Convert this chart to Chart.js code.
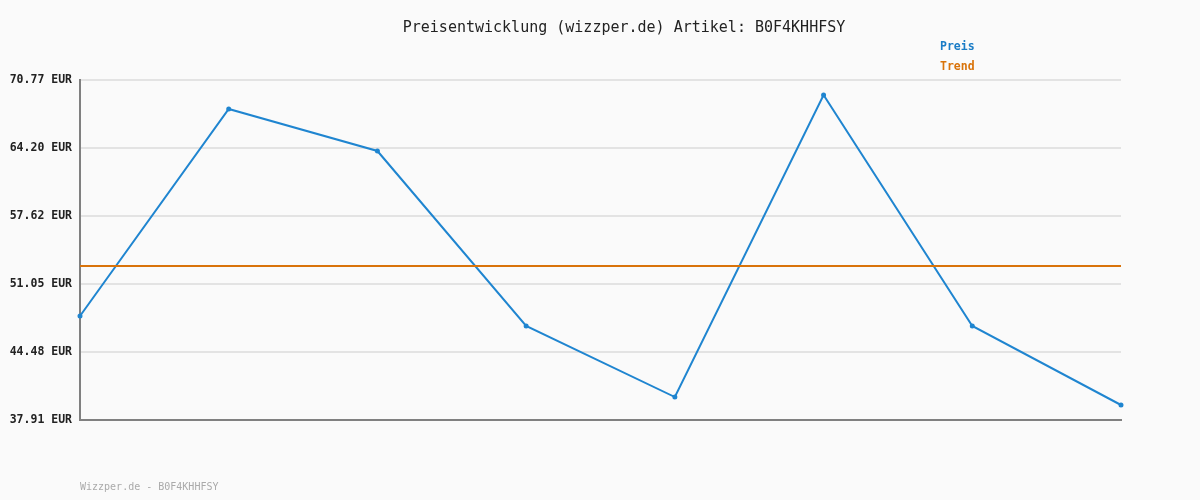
<!DOCTYPE html>
<html>
<head>
<meta charset="utf-8">
<script src="https://cdn.jsdelivr.net/npm/chart.js@4/dist/chart.umd.min.js"></script>
<style>
  html, body { margin: 0; padding: 0; background: #fafafa; }
  #wrap { width: 1200px; height: 500px; }
</style>
</head>
<body>
<div id="wrap"><canvas id="myChart" width="1200" height="500"></canvas></div>
<script>
// data
let labels = ['', '', '', '', '', '', '', ''];
let preis = [47.96, 67.97, 63.91, 47.00, 40.13, 69.32, 47.00, 39.36];
let trend = [52.79, 52.79, 52.79, 52.79, 52.79, 52.79, 52.79, 52.79];
let yTicks = [37.91, 44.48, 51.05, 57.62, 64.20, 70.77];

let titleText = 'Preisentwicklung (wizzper.de) Artikel: B0F4KHHFSY';
let footerText = 'Wizzper.de - B0F4KHHFSY';
let fontName = '"DejaVu Sans Mono", "Liberation Mono", monospace';

// titles, legend and footer drawn in fixed places
let textPlugin = {
    id: 'texts',
    afterDraw: function (chart) {
        let ctx = chart.ctx;
        ctx.save();
        ctx.textBaseline = 'middle';
        ctx.textAlign = 'center';
        ctx.font = '15px ' + fontName;
        ctx.fillStyle = '#222';
        ctx.fillText(titleText, 624, 28);

        ctx.textAlign = 'left';
        ctx.font = 'bold 11.5px ' + fontName;
        ctx.fillStyle = '#1a7cc6';
        ctx.fillText('Preis', 940, 47);
        ctx.fillStyle = '#d9730a';
        ctx.fillText('Trend', 940, 67);

        ctx.font = '10px ' + fontName;
        ctx.fillStyle = '#aaa';
        ctx.fillText(footerText, 80, 487);
        ctx.restore();
    }
};

let bgPlugin = {
    id: 'bg',
    beforeDraw: function (chart) {
        let ctx = chart.ctx;
        ctx.save();
        ctx.fillStyle = '#fafafa';
        ctx.fillRect(0, 0, chart.width, chart.height);
        ctx.restore();
    }
};

let ctx = document.getElementById('myChart').getContext('2d');
let chart = new Chart(ctx, {
    type: 'line',
    data: {
        labels: labels,
        datasets: [{
            label: 'Trend',
            data: trend,
            borderColor: '#d9730a',
            borderWidth: 2,
            pointRadius: 0,
            tension: 0
        }, {
            label: 'Preis',
            data: preis,
            borderColor: '#1f85d0',
            backgroundColor: '#1f85d0',
            borderWidth: 2,
            pointRadius: 1.5,
            pointStyle: 'circle',
            tension: 0
        }]
    },
    options: {
        responsive: false,
        animation: false,
        layout: { padding: { top: 80, right: 79, bottom: 0, left: 0 } },
        plugins: {
            legend: { display: false },
            title: { display: false },
            tooltip: { enabled: false }
        },
        scales: {
            x: {
                offset: false,
                grid: { display: false },
                border: { display: true, color: '#808080', width: 2 },
                ticks: { display: false },
                afterFit: function (scale) { scale.height = 80; }
            },
            y: {
                min: 37.91,
                max: 70.77,
                afterBuildTicks: function (scale) {
                    scale.ticks = yTicks.map(function (v) { return { value: v }; });
                },
                afterFit: function (scale) { scale.width = 80; },
                grid: { color: '#e3e3e3', lineWidth: 2, drawTicks: false },
                border: { display: true, color: '#808080', width: 2 },
                ticks: {
                    padding: 8,
                    color: '#222',
                    font: { family: fontName, size: 11.5, weight: 'bold' },
                    callback: function (value) { return value.toFixed(2) + ' EUR'; }
                }
            }
        }
    },
    plugins: [bgPlugin, textPlugin]
});
</script>
</body>
</html>
